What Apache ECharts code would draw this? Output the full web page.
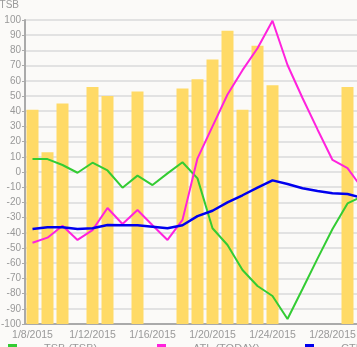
<!DOCTYPE html>
<html>
<head>
<meta charset="utf-8">
<script src="https://cdn.jsdelivr.net/npm/echarts@6/dist/echarts.min.js"></script>
<style>
  html, body { margin: 0; padding: 0; background: #fbfaf8; }
  #chart { width: 357px; height: 347px; }
</style>
</head>
<body>
<div id="chart"></div>
<script>
// Days shown on the category axis (the last one runs past the right edge)
const dates = ['1/8/2015', '1/9/2015', '1/10/2015', '1/11/2015', '1/12/2015', '1/13/2015',
  '1/14/2015', '1/15/2015', '1/16/2015', '1/17/2015', '1/18/2015', '1/19/2015', '1/20/2015',
  '1/21/2015', '1/22/2015', '1/23/2015', '1/24/2015', '1/25/2015', '1/26/2015', '1/27/2015',
  '1/28/2015', '1/29/2015', '1/30/2015'];

// Daily training stress (bars, own hidden 0-200 axis)
const tss = [141, 113, 145, null, 156, 150, null, 153, null, null, 155, 161, 174,
  193, 141, 183, 157, null, null, null, null, 156, null];

// Training stress balance
const tsb = [8.5, 8.5, 4.6, -0.5, 6.1, 1, -10.3, -2.4, -8.6, -0.9, 6.4, -4.2, -37,
  -48, -64.5, -75, -81.6, -96.7, -77, -57, -37.5, -20.7, -16];

// Acute training load
const atl = [-46.5, -43.2, -35.3, -44.7, -38.2, -23.7, -34.2, -25, -35, -44.7, -31.5, 9, 30,
  51, 67, 81.4, 99.5, 70.4, 48.7, 28, 7.9, 2.6, -11];

// Chronic training load
const ctl = [-37.5, -36.4, -36.4, -37.5, -37, -34.9, -35, -35, -36, -37, -35, -29, -25.5,
  -20, -15.3, -10.3, -5.5, -7.9, -10.7, -12.5, -14, -14.5, -17];

const labelColor = '#999999';
const font = 'Liberation Sans, Arial, sans-serif';

const chart = echarts.init(document.getElementById('chart'), null, { renderer: 'canvas' });

function legendAt(left, name) {
  return {
    left: left, top: 343, padding: 0, itemWidth: 9, itemHeight: 9, itemGap: 0,
    icon: 'rect', selectedMode: false,
    data: [name],
    textStyle: { color: labelColor, fontSize: 11, fontFamily: font, padding: [0, 0, 0, 22] }
  };
}

chart.setOption({
  backgroundColor: '#fbfaf8',
  animation: false,
  legend: [
    legendAt(8, 'TSB (TSB)'),
    legendAt(157, 'ATL (TODAY)'),
    legendAt(305, 'CTL (CTL)')
  ],
  grid: { left: 25, top: 20, width: 345, height: 304, containLabel: false, outerBoundsMode: 'none' },
  xAxis: [
    {
      type: 'category', data: dates, boundaryGap: true,
      axisLine: { onZero: false, lineStyle: { color: '#aaaaaa', width: 2 } },
      axisTick: { alignWithLabel: true, interval: 3, length: 4, lineStyle: { color: '#aaaaaa' } },
      axisLabel: { interval: 3, color: labelColor, fontSize: 10.5, fontFamily: font, margin: 6 },
      splitLine: { show: false }
    },
    {
      type: 'category', data: dates, boundaryGap: true, position: 'bottom',
      axisLine: { show: false, onZero: false },
      axisTick: { alignWithLabel: true, interval: 0, length: 2, lineStyle: { color: '#aaaaaa' } },
      axisLabel: { show: false },
      splitLine: { show: false }
    }
  ],
  yAxis: [
    {
      type: 'value', min: -100, max: 100, interval: 10,
      name: 'TSB', nameLocation: 'end', nameGap: 10,
      nameTextStyle: { color: labelColor, fontSize: 10, fontFamily: font, align: 'right', padding: [0, 6, 0, 0] },
      axisLine: { show: true, onZero: false, lineStyle: { color: '#aaaaaa', width: 2 } },
      axisTick: { show: true, length: 3, lineStyle: { color: '#aaaaaa' } },
      axisLabel: { color: labelColor, fontSize: 10, fontFamily: font, margin: 4 },
      splitLine: { lineStyle: { color: '#e2e2e2', width: 2 } }
    },
    {
      type: 'value', min: 0, max: 200, show: false, splitLine: { show: false }
    }
  ],
  series: [
    {
      name: 'TSS', type: 'bar', yAxisIndex: 1, data: tss, barWidth: 12,
      itemStyle: { color: '#ffda66' }
    },
    {
      name: 'TSB (TSB)', type: 'line', data: tsb, symbol: 'none',
      lineStyle: { color: '#33cc33', width: 2 }, itemStyle: { color: '#33cc33' }
    },
    {
      name: 'ATL (TODAY)', type: 'line', data: atl, symbol: 'none',
      lineStyle: { color: '#ff22dd', width: 2 }, itemStyle: { color: '#ff22dd' }
    },
    {
      name: 'CTL (CTL)', type: 'line', data: ctl, symbol: 'none',
      lineStyle: { color: '#0000ee', width: 2.5 }, itemStyle: { color: '#0000ee' }
    }
  ]
});
</script>
</body>
</html>
